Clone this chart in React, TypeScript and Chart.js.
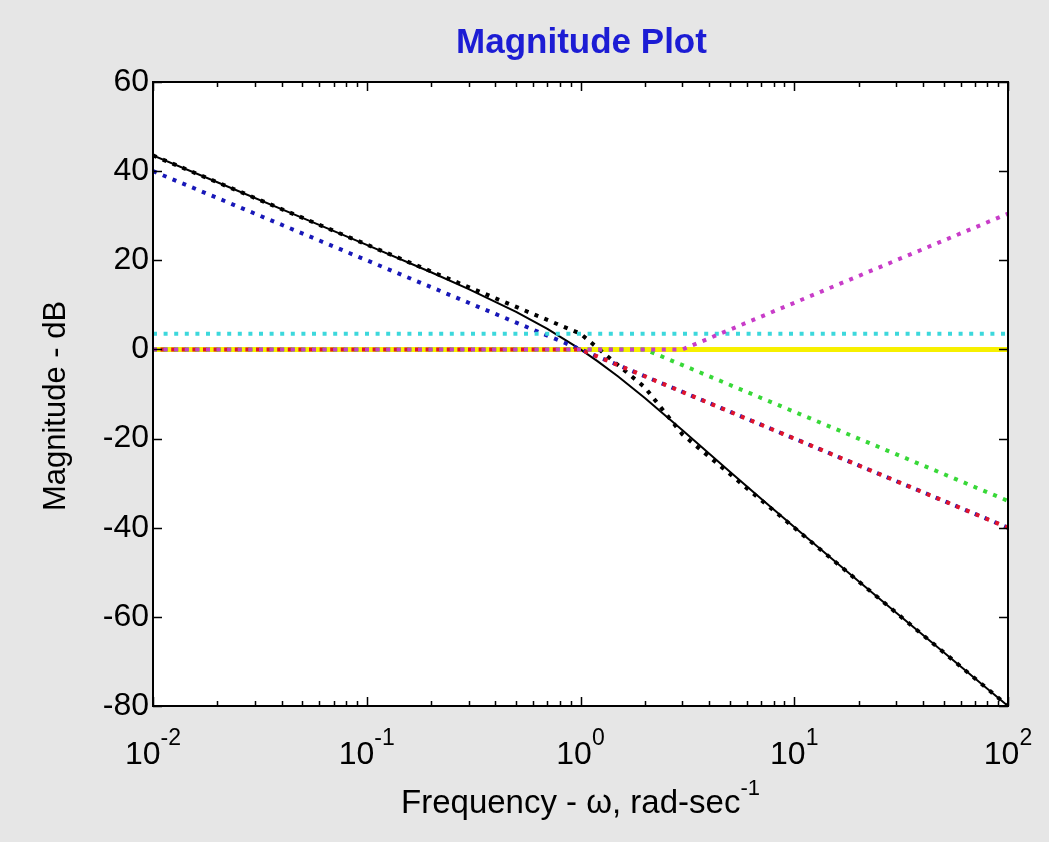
import React, { useEffect, useRef } from 'react';
import { Chart, registerables } from 'chart.js';

Chart.register(...registerables);

// Actual magnitude curve (solid black)
const freqActual = [0.01, 0.02, 0.05, 0.1, 0.2, 0.3, 0.5, 0.7, 1, 1.2, 1.5, 2, 3, 5, 7, 10, 15, 20, 30, 50, 100];
const magActual = [43.52, 37.5, 29.53, 23.47, 17.31, 13.55, 8.43, 4.62, 0.0, -2.63, -6.09, -10.9, -18.13, -27.44, -33.5, -39.84, -46.97, -52.0, -59.07, -67.96, -80.0];
// Composite asymptote (dotted black)
const freqAsym = [0.01, 1, 2, 3, 100];
const magAsym = [43.52, 3.52, -8.52, -19.08, -80.0];
// Integrator (dotted blue)
const freqIntegrator = [0.01, 100];
const magIntegrator = [40, -40];
// Pole at 1 (dotted red)
const freqPole1 = [0.01, 1, 100];
const magPole1 = [0, 0, -40];
// Pole at 2 (dotted green)
const freqPole2 = [0.01, 2, 100];
const magPole2 = [0, 0, -33.98];
// Zero at 3 (dotted magenta)
const freqZero = [0.01, 3, 100];
const magZero = [0, 0, 30.46];
// Gain (dotted cyan)
const freqGain = [0.01, 100];
const magGain = [3.52, 3.52];
// 0 dB reference (solid yellow)
const freqUnity = [0.01, 100];
const magUnity = [0, 0];

const xMajorTicks = [0.01, 0.1, 1, 10, 100];
const xTickExponents = ['-2', '-1', '0', '1', '2'];
const yMin = -80;
const yMax = 60;
const yStep = 20;

const FONT = '"Liberation Sans", Arial, Helvetica, sans-serif';

function pts(xs: number[], ys: number[]) {
  return xs.map((x, i) => ({ x, y: ys[i] }));
}

const bodePlugin = {
  id: 'bodeDecor',
  beforeDraw(chart: any) {
    const { ctx, width, height, chartArea: a } = chart;
    ctx.save();
    ctx.fillStyle = '#e6e6e6';
    ctx.fillRect(0, 0, width, height);
    ctx.fillStyle = '#ffffff';
    ctx.fillRect(a.left, a.top, a.right - a.left, a.bottom - a.top);
    ctx.restore();
  },
  afterDraw(chart: any) {
    const { ctx, chartArea: a } = chart;
    const xs = chart.scales.x;
    const ys = chart.scales.y;
    ctx.save();
    // frame
    ctx.strokeStyle = '#000';
    ctx.lineWidth = 2;
    ctx.strokeRect(a.left, a.top, a.right - a.left, a.bottom - a.top);
    // x ticks (inward, top and bottom)
    ctx.lineWidth = 1.5;
    ctx.beginPath();
    for (let d = 0; d < xMajorTicks.length; d++) {
      const base = xMajorTicks[d];
      const px = Math.round(xs.getPixelForValue(base)) + 0.5;
      ctx.moveTo(px, a.bottom);
      ctx.lineTo(px, a.bottom - 9);
      ctx.moveTo(px, a.top);
      ctx.lineTo(px, a.top + 9);
      if (d < xMajorTicks.length - 1) {
        for (let m = 2; m <= 9; m++) {
          const mx = Math.round(xs.getPixelForValue(base * m)) + 0.5;
          ctx.moveTo(mx, a.bottom);
          ctx.lineTo(mx, a.bottom - 5);
          ctx.moveTo(mx, a.top);
          ctx.lineTo(mx, a.top + 5);
        }
      }
    }
    // y ticks (inward, left and right)
    ys.ticks.forEach((t: any) => {
      const py = Math.round(ys.getPixelForValue(t.value)) + 0.5;
      ctx.moveTo(a.left, py);
      ctx.lineTo(a.left + 9, py);
      ctx.moveTo(a.right, py);
      ctx.lineTo(a.right - 9, py);
    });
    ctx.stroke();

    // x tick labels with superscripts
    ctx.fillStyle = '#000';
    ctx.textBaseline = 'alphabetic';
    ctx.textAlign = 'left';
    xMajorTicks.forEach((v, i) => {
      const px = xs.getPixelForValue(v);
      ctx.font = `32px ${FONT}`;
      const w1 = ctx.measureText('10').width;
      ctx.font = `23px ${FONT}`;
      const w2 = ctx.measureText(xTickExponents[i]).width;
      const start = px - (w1 + w2) / 2;
      ctx.font = `32px ${FONT}`;
      ctx.fillText('10', start, a.bottom + 58);
      ctx.font = `23px ${FONT}`;
      ctx.fillText(xTickExponents[i], start + w1, a.bottom + 39);
    });

    // x axis title
    const cx = (a.left + a.right) / 2;
    const main = 'Frequency - \u03c9, rad-sec';
    const sup = '-1';
    ctx.font = `33px ${FONT}`;
    const mw = ctx.measureText(main).width;
    ctx.font = `22px ${FONT}`;
    const sw = ctx.measureText(sup).width;
    const sx = cx - (mw + sw) / 2;
    ctx.font = `33px ${FONT}`;
    ctx.fillText(main, sx, a.bottom + 107);
    ctx.font = `22px ${FONT}`;
    ctx.fillText(sup, sx + mw, a.bottom + 89);

    // y axis title
    ctx.save();
    ctx.translate(56, (a.top + a.bottom) / 2 + 12);
    ctx.rotate(-Math.PI / 2);
    ctx.textAlign = 'center';
    ctx.textBaseline = 'middle';
    ctx.font = `31px ${FONT}`;
    ctx.fillText('Magnitude - dB', 0, 0);
    ctx.restore();

    // chart title
    ctx.textAlign = 'center';
    ctx.textBaseline = 'alphabetic';
    ctx.fillStyle = '#1c1cd4';
    ctx.font = `bold 35px ${FONT}`;
    ctx.fillText('Magnitude Plot', cx + 1, 53);
    ctx.restore();
  },
};

const dotted = [4, 6.6];

export default function App() {
  const ref = useRef<HTMLCanvasElement | null>(null);
  useEffect(() => {
    document.body.style.margin = '0';
    document.body.style.background = '#e6e6e6';
    const canvas = ref.current;
    if (!canvas) return;
    const chart = new Chart(canvas, {
      type: 'line',
      data: {
        datasets: [
          { label: 'unity', data: pts(freqUnity, magUnity), borderColor: '#f7f000', borderWidth: 5, order: 9 },
          { label: 'actual', data: pts(freqActual, magActual), borderColor: '#000000', borderWidth: 2, order: 8 },
          { label: 'asymptote', data: pts(freqAsym, magAsym), borderColor: '#000000', borderWidth: 4, borderDash: dotted, order: 7 },
          { label: 'integrator', data: pts(freqIntegrator, magIntegrator), borderColor: '#1818b8', borderWidth: 4, borderDash: dotted, order: 6 },
          { label: 'pole1', data: pts(freqPole1, magPole1), borderColor: '#e0142c', borderWidth: 4, borderDash: dotted, borderDashOffset: 3, order: 5 },
          { label: 'pole2', data: pts(freqPole2, magPole2), borderColor: '#38d838', borderWidth: 4, borderDash: dotted, order: 4 },
          { label: 'gain', data: pts(freqGain, magGain), borderColor: '#3cd8dc', borderWidth: 4, borderDash: dotted, order: 3 },
          { label: 'zero', data: pts(freqZero, magZero), borderColor: '#c83cc8', borderWidth: 4, borderDash: dotted, order: 2 },
        ],
      },
      options: {
        animation: false,
        responsive: false,
        devicePixelRatio: 1,
        parsing: false as any,
        normalized: true,
        elements: {
          point: { radius: 0 },
          line: { tension: 0, borderCapStyle: 'butt', fill: false },
        },
        layout: { padding: { left: 0, right: 41, top: 82, bottom: 0 } },
        plugins: {
          legend: { display: false },
          tooltip: { enabled: false },
          title: { display: false },
        },
        scales: {
          x: {
            type: 'logarithmic',
            min: 0.01,
            max: 100,
            grid: { display: false, drawTicks: false },
            border: { display: false },
            ticks: { display: false },
            afterFit: (s: any) => {
              s.height = 136;
            },
          },
          y: {
            type: 'linear',
            min: yMin,
            max: yMax,
            grid: { display: false, drawTicks: false },
            border: { display: false },
            ticks: {
              stepSize: yStep,
              color: '#000',
              padding: 4,
              font: { family: FONT, size: 32 },
            },
            afterFit: (s: any) => {
              s.width = 153;
            },
          },
        },
      },
      plugins: [bodePlugin],
    });
    return () => chart.destroy();
  }, []);
  return (
    <div style={{ position: 'absolute', left: 0, top: 0, width: 1049, height: 842, background: '#e6e6e6' }}>
      <canvas ref={ref} width={1049} height={842} />
    </div>
  );
}
